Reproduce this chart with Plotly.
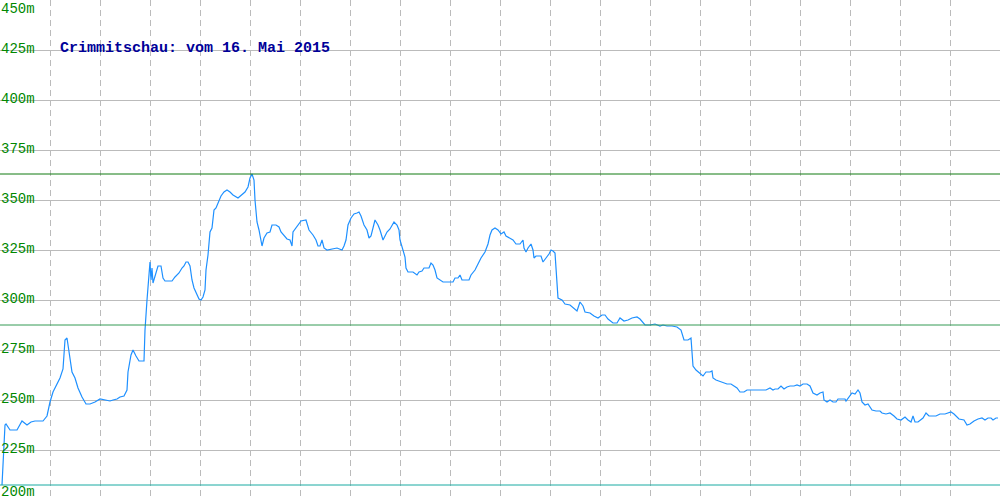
import plotly.graph_objects as go

# Horizontal position along the route (arbitrary distance units, 0..1000)
dist = [2, 5, 6, 10, 17, 22, 27, 31, 35, 43, 47, 50, 53, 57, 60, 63, 65, 67, 69, 72,
        75, 78, 82, 86, 90, 95, 100, 105, 110, 113, 117, 120, 124, 127, 128, 131, 133, 136, 139, 144,
        145, 147, 149, 150, 151, 152, 153, 156, 158, 160, 161, 163, 165, 169, 172, 175, 179, 182, 184, 186,
        188, 190, 192, 194, 197, 199, 201, 203, 205, 206, 208, 210, 212, 214, 216, 219, 221, 224, 227, 230,
        233, 238, 242, 245, 248, 250, 252, 254, 255, 257, 259, 261, 262, 264, 267, 270, 272, 276, 279, 281,
        284, 287, 290, 292, 293, 295, 298, 301, 306, 309, 313, 316, 318, 320, 322, 324, 327, 333, 337, 342,
        344, 346, 348, 351, 354, 357, 359, 361, 364, 367, 369, 371, 373, 375, 378, 380, 383, 385, 387, 390,
        392, 394, 397, 399, 400, 403, 405, 406, 408, 410, 413, 417, 419, 422, 424, 429, 431, 433, 435, 437,
        440, 443, 446, 450, 453, 455, 458, 460, 462, 465, 469, 471, 475, 478, 481, 485, 488, 490, 492, 495,
        498, 501, 504, 506, 510, 513, 516, 520, 523, 524, 526, 528, 531, 533, 534, 536, 541, 543, 546, 549,
        551, 553, 555, 556, 557, 558, 562, 565, 570, 574, 577, 580, 583, 585, 590, 594, 598, 602, 605, 608,
        610, 613, 617, 620, 624, 628, 632, 637, 640, 643, 645, 650, 655, 660, 663, 667, 672, 677, 681, 684,
        688, 691, 693, 696, 700, 703, 706, 710, 712, 713, 716, 719, 723, 727, 731, 734, 737, 740, 744, 747,
        752, 756, 766, 770, 773, 775, 778, 781, 784, 787, 790, 794, 797, 800, 803, 807, 810, 813, 817, 820,
        823, 824, 827, 830, 833, 836, 838, 842, 845, 846, 849, 852, 855, 858, 860, 862, 865, 868, 872, 876,
        880, 882, 886, 890, 894, 897, 901, 905, 908, 911, 913, 915, 918, 921, 923, 926, 929, 933, 936, 940,
        945, 951, 954, 959, 964, 967, 970, 974, 978, 982, 985, 988, 991, 993, 996, 998]

# Elevation in metres
elev = [207.5, 237.5, 238.0, 235.0, 235.0, 239.5, 237.5, 239.0, 239.5, 239.5, 242.0, 249.0, 254.0, 258.0, 261.0, 265.5, 280.0, 281.0, 275.0, 264.0,
        261.0, 256.0, 251.5, 248.0, 248.0, 249.0, 250.5, 250.0, 249.5, 250.0, 250.5, 251.5, 252.0, 255.0, 264.0, 272.5, 275.0, 272.0, 269.5, 269.5,
        285.0, 300.0, 312.5, 319.0, 310.0, 316.0, 308.5, 314.5, 317.0, 317.0, 317.0, 311.0, 309.5, 309.5, 309.5, 311.5, 313.5, 316.0, 317.0, 319.0,
        319.0, 317.0, 310.0, 306.0, 303.0, 300.5, 300.0, 301.5, 305.0, 315.0, 322.5, 334.0, 336.0, 345.0, 346.0, 350.0, 352.0, 354.0, 355.0, 354.0,
        352.5, 351.0, 352.5, 354.0, 356.5, 361.0, 363.0, 360.0, 350.0, 339.0, 335.0, 328.0, 327.0, 331.0, 333.5, 334.0, 337.5, 337.5, 336.5, 334.0,
        332.0, 330.5, 330.0, 327.0, 334.0, 335.5, 337.5, 339.5, 340.0, 335.0, 332.5, 330.0, 327.0, 327.0, 330.0, 326.0, 325.0, 325.5, 326.0, 325.0,
        327.0, 330.0, 337.5, 341.0, 343.0, 343.5, 344.0, 342.0, 337.5, 335.0, 331.0, 332.0, 336.0, 340.0, 337.5, 335.0, 330.0, 332.0, 334.0, 335.5,
        337.0, 339.0, 337.5, 335.0, 330.0, 325.0, 321.5, 316.0, 314.0, 314.0, 314.0, 312.5, 314.0, 314.5, 316.0, 316.0, 318.5, 317.5, 315.0, 311.0,
        310.0, 309.0, 309.0, 309.0, 309.0, 311.0, 311.0, 312.5, 310.0, 310.0, 310.0, 312.5, 315.0, 318.0, 321.0, 324.0, 328.0, 332.5, 335.0, 336.0,
        335.0, 333.0, 334.0, 332.0, 331.0, 330.0, 328.0, 328.0, 330.0, 326.0, 324.0, 326.0, 328.0, 325.0, 321.0, 322.0, 322.0, 319.0, 321.0, 323.0,
        325.0, 324.5, 323.5, 315.0, 307.5, 301.0, 300.0, 298.0, 297.5, 295.5, 294.5, 299.0, 297.0, 294.0, 293.5, 292.0, 291.0, 292.5, 292.5, 290.5,
        289.5, 288.5, 288.5, 291.0, 289.5, 290.0, 291.0, 291.5, 290.5, 289.0, 287.5, 287.5, 288.0, 287.0, 287.5, 287.0, 287.0, 286.5, 285.0, 280.0,
        280.0, 281.0, 267.0, 265.0, 263.0, 262.0, 264.0, 264.0, 264.5, 261.0, 260.0, 259.5, 259.0, 258.0, 258.0, 257.0, 256.0, 254.0, 254.0, 255.0,
        255.0, 255.0, 255.0, 256.0, 255.0, 255.5, 255.5, 257.0, 255.5, 256.5, 257.0, 257.0, 257.5, 257.0, 258.0, 258.0, 257.0, 253.5, 252.5, 253.5,
        254.0, 250.0, 249.0, 250.0, 249.0, 249.0, 250.5, 250.5, 250.5, 249.5, 251.5, 253.5, 253.0, 255.0, 253.5, 249.0, 247.5, 248.0, 245.0, 244.5,
        244.5, 243.5, 243.0, 243.5, 242.0, 240.5, 240.0, 241.5, 240.0, 239.0, 242.0, 239.0, 239.0, 240.0, 241.0, 243.5, 242.0, 242.0, 242.0, 243.0,
        243.0, 244.0, 243.0, 240.5, 240.0, 237.5, 238.0, 239.5, 240.5, 241.0, 240.0, 241.0, 241.0, 240.0, 241.0, 241.0]

# Reference lines: maximum, average and minimum elevation
max_elev = 363.0
avg_elev = 287.5
min_elev = 207.5

y_ticks = [200, 225, 250, 275, 300, 325, 350, 375, 400, 425, 450]
y_tick_labels = ["200m", "225m", "250m", "275m", "300m", "325m", "350m", "375m", "400m", "425m", "450m"]
title_text = "Crimmitschau: vom 16. Mai 2015"

fig = go.Figure()

ref_lines = [(max_elev, "#107a10"), (avg_elev, "#359a55"), (min_elev, "#18aaa2")]
for val, col in ref_lines:
    fig.add_shape(type="line", xref="paper", x0=0, x1=1, yref="y", y0=val, y1=val,
                  line=dict(color=col, width=1), layer="above")

fig.add_trace(go.Scatter(x=dist, y=elev, mode="lines",
                         line=dict(color="#1e90ff", width=1.2), hoverinfo="skip",
                         showlegend=False, cliponaxis=True))

label_font = dict(family="Liberation Mono", size=14, color="#008800")
annotations = []
for v, lab in zip(y_ticks, y_tick_labels):
    if v == 450:
        anchor, shift = "top", 1
    elif v == 200:
        anchor, shift = "bottom", -2
    else:
        anchor, shift = "bottom", -9
    annotations.append(dict(x=0, xref="paper", y=v, yref="y", text=lab, showarrow=False,
                            xanchor="left", yanchor=anchor, xshift=-1, yshift=shift,
                            font=label_font))

annotations.append(dict(x=60, xref="x", y=1 - 48 / 500, yref="paper", text="<b>" + title_text + "</b>",
                        showarrow=False, xanchor="left", yanchor="middle", xshift=-2, yshift=-1,
                        font=dict(family="Liberation Mono", size=15, color="#000099")))

fig.update_layout(
    width=1000, height=500,
    margin=dict(l=0, r=0, t=0, b=0),
    paper_bgcolor="white", plot_bgcolor="white",
    annotations=annotations,
    xaxis=dict(range=[0, 1000], showticklabels=False, ticks="", dtick=50, tick0=0,
               showgrid=True, gridcolor="#bbbbbb", gridwidth=1, griddash="6px,4px",
               zeroline=False, showline=True, linecolor="#bbbbbb", linewidth=1, mirror=True),
    yaxis=dict(range=[200, 450], showticklabels=False, ticks="", tickvals=y_ticks,
               showgrid=True, gridcolor="#bbbbbb", gridwidth=1,
               zeroline=False, showline=True, linecolor="#bbbbbb", linewidth=1),
)

fig.write_html("out.html", config={"displayModeBar": False, "staticPlot": True},
               post_script="document.body.style.margin='0';document.body.style.overflow='hidden';")
